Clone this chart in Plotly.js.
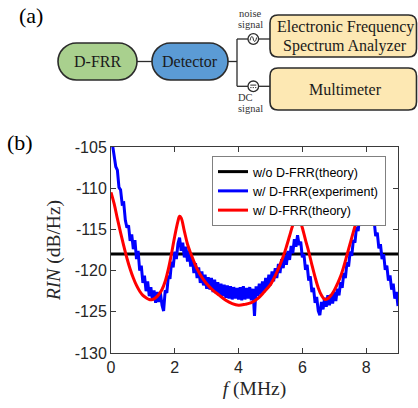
<!DOCTYPE html>
<html>
<head>
<meta charset="utf-8">
<script src="https://cdn.plot.ly/plotly-3.0.1.min.js"></script>
<style>html,body{margin:0;padding:0;background:#fff;}#chart{width:418px;height:408px;}</style>
</head>
<body>
<div id="chart"></div>
<script>
// ---- data ----
const seriesNames = ['w/o D-FRR(theory)', 'w/ D-FRR(experiment)', 'w/ D-FRR(theory)'];

const refF = [0, 9];
const refRIN = [-118, -118];

const expF = [0.00,0.05,0.10,0.15,0.20,0.25,0.30,0.35,0.40,0.45,0.50,0.55,0.60,0.65,0.70,0.75,0.80,0.85,0.90,0.95,
  1.00,1.05,1.10,1.15,1.20,1.25,1.30,1.35,1.40,1.45,1.50,1.55,1.60,1.65,1.70,1.75,1.80,1.85,1.90,1.95,
  2.00,2.05,2.10,2.15,2.20,2.25,2.30,2.35,2.40,2.45,2.50,2.55,2.60,2.65,2.70,2.75,2.80,2.85,2.90,2.95,
  3.00,3.05,3.10,3.15,3.20,3.25,3.30,3.35,3.40,3.45,3.50,3.55,3.60,3.65,3.70,3.75,3.80,3.85,3.90,3.95,
  4.00,4.05,4.10,4.15,4.20,4.25,4.30,4.35,4.40,4.45,4.50,4.55,4.60,4.65,4.70,4.75,4.80,4.85,4.90,4.95,
  5.00,5.05,5.10,5.15,5.20,5.25,5.30,5.35,5.40,5.45,5.50,5.55,5.60,5.65,5.70,5.75,5.80,5.85,5.90,5.95,
  6.00,6.05,6.10,6.15,6.20,6.25,6.30,6.35,6.40,6.45,6.50,6.55,6.60,6.65,6.70,6.75,6.80,6.85,6.90,6.95,
  7.00,7.05,7.10,7.15,7.20,7.25,7.30,7.35,7.40,7.45,7.50,7.55,7.60,7.65,7.70,7.75,7.80,7.85,7.90,7.95,
  8.00,8.05,8.10,8.15,8.20,8.25,8.30,8.35,8.40,8.45,8.50,8.55,8.60,8.65,8.70,8.75,8.80,8.85,8.90,8.95,9.00];
const expRIN = [-103.5,-104.8,-105.6,-107.4,-107.8,-109.9,-110.2,-111.9,-111.8,-113.9,-114.8,-114.5,-116.4,-115.6,-117.4,-116.3,-118.6,-117.6,-120.0,-119.4,
  -121.5,-120.6,-122.5,-121.3,-123.1,-122.0,-123.6,-122.4,-123.9,-122.6,-123.8,-122.7,-124.2,-124.9,-122.4,-122.7,-120.6,-121.0,-118.9,-119.6,
  -117.7,-118.6,-116.7,-116.0,-117.6,-116.6,-118.4,-117.1,-118.9,-117.6,-119.5,-118.5,-120.3,-119.1,-120.9,-119.6,-121.5,-120.1,-121.8,-120.5,
  -122.2,-120.8,-122.3,-120.9,-122.6,-121.1,-122.8,-121.4,-123.0,-121.6,-123.1,-121.7,-123.3,-121.8,-123.4,-121.9,-123.5,-122.0,-123.4,-122.1,
  -123.5,-122.0,-123.6,-121.9,-123.5,-122.1,-123.4,-122.0,-123.6,-122.2,-125.5,-121.9,-123.1,-121.6,-122.9,-121.3,-122.6,-120.9,-122.2,-120.5,
  -121.8,-120.1,-121.3,-119.7,-120.9,-119.2,-120.3,-118.6,-119.7,-118.1,-119.3,-117.6,-118.7,-117.0,-117.9,-116.2,-117.1,-115.7,-116.9,-116.5,
  -118.4,-118.0,-119.9,-119.3,-121.2,-120.7,-122.6,-122.1,-123.9,-123.2,-124.9,-125.4,-123.8,-124.7,-123.3,-124.4,-123.0,-124.2,-122.9,-124.0,
  -122.6,-123.7,-122.2,-123.0,-121.4,-122.1,-120.3,-120.9,-119.0,-119.5,-117.7,-118.2,-116.3,-116.6,-114.7,-115.2,-113.3,-113.9,-112.0,-112.4,
  -110.8,-110.6,-111.8,-112.0,-114.1,-113.9,-115.8,-115.4,-117.3,-116.8,-118.6,-118.0,-119.9,-119.4,-121.2,-120.6,-122.3,-121.6,-123.4,-122.6,-124.3];

const thF = [0,0.1,0.2,0.3,0.4,0.5,0.6,0.7,0.8,0.9,1.0,1.1,1.2,1.3,1.4,1.5,1.6,1.7,1.8,1.9,2.0,2.1,2.15,2.2,2.3,2.4,2.5,2.6,2.7,2.8,2.9,3.0,
  3.2,3.4,3.6,3.8,4.0,4.2,4.4,4.6,4.8,5.0,5.1,5.2,5.3,5.4,5.5,5.6,5.7,5.8,5.85,5.9,6.0,6.1,6.2,6.3,6.4,6.5,6.6,6.7,6.8,6.9,
  7.0,7.1,7.2,7.3,7.4,7.5,7.6,7.7,7.8,7.9,8.0];
const thRIN = [-110.5,-111.9,-113.7,-115.4,-117.0,-118.5,-119.8,-120.9,-121.8,-122.5,-123.0,-123.3,-123.5,-123.5,-123.3,-122.9,-122.3,-121.3,-119.8,-117.9,-115.8,-114.0,-113.4,-113.6,-115.2,-116.8,-117.9,-118.9,-119.8,-120.5,-121.1,-121.6,
  -122.4,-123.0,-123.6,-124.0,-124.2,-124.1,-123.9,-123.4,-122.6,-121.7,-121.0,-120.2,-119.3,-118.3,-117.1,-115.8,-114.5,-113.6,-113.4,-113.6,-114.8,-116.3,-117.7,-119.3,-120.8,-122.1,-123.0,-123.5,-123.4,-123.0,
  -122.4,-121.6,-120.7,-119.5,-118.1,-116.7,-115.3,-114.0,-112.7,-111.4,-110.2];

const xTickVals = [0, 2, 4, 6, 8];
const xTickText = ['0', '2', '4', '6', '8'];
const yTickVals = [-130, -125, -120, -115, -110, -105];
const yTickText = ['-130', '-125', '-120', '-115', '-110', '-105'];

// ---- layout helpers (pixel -> paper) ----
const L = 111, R = 398, T = 147, B = 353;
const PX = px => (px - L) / (R - L);
const PY = py => (B - py) / (B - T);
const pt = (x, y) => PX(x).toFixed(5) + ',' + PY(y).toFixed(5);

function pillPath(x0, x1, y0, y1) {
  const r = (y1 - y0) / 2, k = 0.5523 * r, ym = (y0 + y1) / 2;
  return 'M' + pt(x0 + r, y0) + ' L' + pt(x1 - r, y0) +
    ' C' + pt(x1 - r + k, y0) + ' ' + pt(x1, ym - k) + ' ' + pt(x1, ym) +
    ' C' + pt(x1, ym + k) + ' ' + pt(x1 - r + k, y1) + ' ' + pt(x1 - r, y1) +
    ' L' + pt(x0 + r, y1) +
    ' C' + pt(x0 + r - k, y1) + ' ' + pt(x0, ym + k) + ' ' + pt(x0, ym) +
    ' C' + pt(x0, ym - k) + ' ' + pt(x0 + r - k, y0) + ' ' + pt(x0 + r, y0) + ' Z';
}
function roundRectPath(x0, x1, y0, y1, r) {
  return 'M' + pt(x0 + r, y0) + ' L' + pt(x1 - r, y0) + ' Q' + pt(x1, y0) + ' ' + pt(x1, y0 + r) +
    ' L' + pt(x1, y1 - r) + ' Q' + pt(x1, y1) + ' ' + pt(x1 - r, y1) +
    ' L' + pt(x0 + r, y1) + ' Q' + pt(x0, y1) + ' ' + pt(x0, y1 - r) +
    ' L' + pt(x0, y0 + r) + ' Q' + pt(x0, y0) + ' ' + pt(x0 + r, y0) + ' Z';
}
const edge = '#2b2b2b';
function pathShape(path, fill, w) {
  return {type: 'path', xref: 'paper', yref: 'paper', path: path, fillcolor: fill || 'rgba(0,0,0,0)',
          line: {color: edge, width: w || 1.6}, layer: 'above'};
}
function seg(x0, y0, x1, y1, w) {
  return {type: 'line', xref: 'paper', yref: 'paper', x0: PX(x0), y0: PY(y0), x1: PX(x1), y1: PY(y1),
          line: {color: edge, width: w || 1.3}, layer: 'above'};
}
function circ(cx, cy, r) {
  return {type: 'circle', xref: 'paper', yref: 'paper', x0: PX(cx - r), x1: PX(cx + r), y0: PY(cy + r), y1: PY(cy - r),
          fillcolor: '#ffffff', line: {color: edge, width: 1.3}, layer: 'above'};
}

const c1 = [253.3, 39], c2 = [253.3, 86.3], cr = 5.3;
const shapes = [
  pathShape(pillPath(58, 137, 43, 80), '#a9d08e'),
  pathShape(pillPath(152, 228, 43, 80), '#5b9bd5'),
  pathShape(roundRectPath(270, 416.5, 15, 57, 8), '#fde8b3'),
  pathShape(roundRectPath(270, 416.5, 68, 110, 8), '#fde8b3'),
  seg(137, 61.5, 152, 61.5), seg(228, 61.5, 237, 61.5), seg(237, 39, 237, 86.3),
  seg(237, 39, c1[0] - cr, 39), seg(c1[0] + cr, 39, 270, 39),
  seg(237, 86.3, c2[0] - cr, 86.3), seg(c2[0] + cr, 86.3, 270, 86.3),
  circ(c1[0], c1[1], cr), circ(c2[0], c2[1], cr),
  pathShape('M' + pt(c1[0] - 3.3, c1[1] + 1.5) + ' C' + pt(c1[0] - 2.2, c1[1] - 4) + ' ' + pt(c1[0] - 0.6, c1[1] - 3) + ' ' + pt(c1[0], c1[1]) +
            ' C' + pt(c1[0] + 0.6, c1[1] + 3) + ' ' + pt(c1[0] + 2.2, c1[1] + 4) + ' ' + pt(c1[0] + 3.3, c1[1] - 1.5), null, 1),
  seg(c2[0] - 3, c2[1] - 1.2, c2[0] + 3, c2[1] - 1.2, 1),
  seg(c2[0] - 3, c2[1] + 1.3, c2[0] - 1.8, c2[1] + 1.3, 1),
  seg(c2[0] - 0.6, c2[1] + 1.3, c2[0] + 0.6, c2[1] + 1.3, 1),
  seg(c2[0] + 1.8, c2[1] + 1.3, c2[0] + 3, c2[1] + 1.3, 1)
];

const serif = '"Liberation Serif", "Times New Roman", serif';
function txt(text, x, y, size, anchor, color) {
  return {text: text, xref: 'paper', yref: 'paper', x: PX(x), y: PY(y), xanchor: anchor || 'center', yanchor: 'middle',
          showarrow: false, font: {family: serif, size: size, color: color || '#1a1a1a'}};
}
const annotations = [
  txt('(a)', 31, 15, 22, 'center', '#000'),
  txt('(b)', 20, 142, 22, 'center', '#000'),
  txt('D-FRR', 97.5, 62, 16),
  txt('Detector', 190, 62, 16),
  txt('Electronic Frequency', 345, 27, 16),
  txt('Spectrum Analyzer', 345, 46, 16),
  txt('Multimeter', 345, 89.5, 16),
  txt('noise', 250, 13, 10.5, 'center', '#333'),
  txt('signal', 250, 24.5, 10.5, 'center', '#333'),
  txt('DC', 236, 97.5, 10.5, 'left', '#333'),
  txt('signal', 236, 108.5, 10.5, 'left', '#333')
];

const traces = [
  {x: refF, y: refRIN, name: seriesNames[0], mode: 'lines', line: {color: '#000000', width: 3}},
  {x: expF, y: expRIN, name: seriesNames[1], mode: 'lines', line: {color: '#0000ff', width: 3}},
  {x: thF, y: thRIN, name: seriesNames[2], mode: 'lines', line: {color: '#ff0000', width: 3, shape: 'spline', smoothing: 1}}
];

const axisCommon = {
  showgrid: false, zeroline: false, showline: true, linecolor: '#3a3a3a', linewidth: 1,
  mirror: 'ticks', ticks: 'inside', ticklen: 5, tickwidth: 1, tickcolor: '#3a3a3a',
  tickfont: {family: '"Liberation Sans", Arial, sans-serif', size: 16, color: '#262626'},
  automargin: false, fixedrange: true
};

const layout = {
  width: 418, height: 408,
  margin: {l: L, r: 418 - R, t: T, b: 408 - B, pad: 0},
  paper_bgcolor: '#ffffff', plot_bgcolor: '#ffffff',
  showlegend: true,
  legend: {x: PX(212), y: PY(156), xanchor: 'left', yanchor: 'top', bgcolor: '#ffffff',
           bordercolor: '#808080', borderwidth: 1,
           font: {family: '"Liberation Sans", Arial, sans-serif', size: 12.5, color: '#000'}},
  xaxis: Object.assign({}, axisCommon, {
    range: [0, 9], tickvals: xTickVals, ticktext: xTickText,
    title: {text: '<i>f</i> (MHz)', font: {family: serif, size: 19.5, color: '#262626'}, standoff: 6}
  }),
  yaxis: Object.assign({}, axisCommon, {
    range: [-130, -105], tickvals: yTickVals, ticktext: yTickText,
    title: {text: '<i>RIN</i> (dB/Hz)', font: {family: serif, size: 19.5, color: '#262626'}, standoff: 8}
  }),
  shapes: shapes,
  annotations: annotations,
  hovermode: false
};

Plotly.newPlot('chart', traces, layout, {staticPlot: true, displayModeBar: false});
</script>
</body>
</html>
